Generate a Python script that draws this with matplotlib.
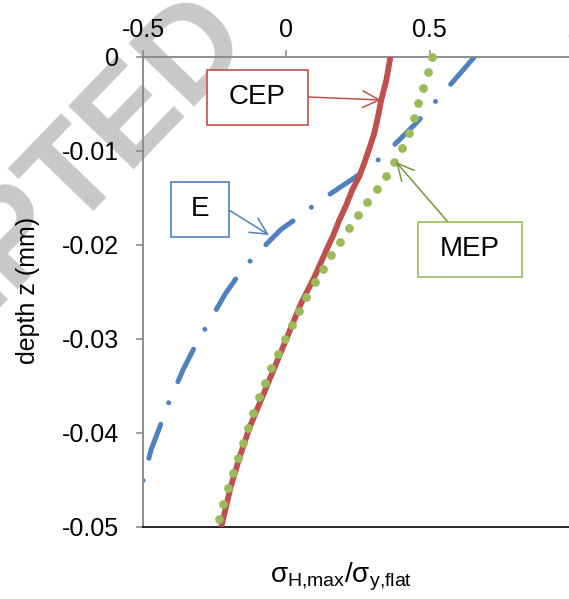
import matplotlib
matplotlib.use('Agg')
from matplotlib import pyplot as plt
from matplotlib.patches import Rectangle

plt.rcParams['font.family'] = ['Liberation Sans', 'DejaVu Sans']
plt.rcParams['mathtext.fontset'] = 'custom'
plt.rcParams['mathtext.rm'] = 'Liberation Sans'
plt.rcParams['axes.unicode_minus'] = False
plt.rcParams['lines.scale_dashes'] = False

# data
cep_depth = [0, -0.00245, -0.00457, -0.00617, -0.00809, -0.00968, -0.01128, -0.01266,
             -0.01415, -0.01574, -0.01734, -0.01894, -0.02053, -0.0234, -0.02617,
             -0.0300, -0.03309, -0.03617, -0.03947, -0.04266, -0.04585, -0.05]
cep_stress = [0.363, 0.349, 0.331, 0.321, 0.307, 0.290, 0.272, 0.255,
              0.230, 0.209, 0.185, 0.164, 0.140, 0.098, 0.052,
              0.0, -0.042, -0.084, -0.129, -0.164, -0.195, -0.227]

mep_depth = [0, -0.0016, -0.0033, -0.0049, -0.0065, -0.0081, -0.0097, -0.0112, -0.0127,
             -0.0140, -0.0154, -0.0168, -0.0182, -0.0197, -0.0211, -0.0226, -0.0239,
             -0.0255, -0.0270, -0.0285, -0.0300, -0.0316, -0.0331, -0.0347, -0.0362,
             -0.0379, -0.0395, -0.0411, -0.0427, -0.0443, -0.0459, -0.0476, -0.0491]
mep_stress = [0.509, 0.495, 0.478, 0.460, 0.446, 0.429, 0.405, 0.377, 0.349,
              0.317, 0.283, 0.251, 0.220, 0.188, 0.157, 0.129, 0.101,
              0.070, 0.045, 0.021, -0.003, -0.028, -0.052, -0.073, -0.094,
              -0.115, -0.133, -0.150, -0.167, -0.185, -0.202, -0.220, -0.234]

e_depth = [0, -0.0033, -0.0069, -0.0101, -0.0116, -0.0130, -0.0154, -0.0169, -0.0183,
           -0.0213, -0.0232, -0.0252, -0.0289, -0.0311, -0.0332, -0.0371, -0.0395,
           -0.0417, -0.0453, -0.05]
e_stress = [0.656, 0.562, 0.457, 0.352, 0.296, 0.230, 0.112, 0.049, -0.017,
            -0.115, -0.167, -0.213, -0.283, -0.324, -0.359, -0.415, -0.443,
            -0.471, -0.502, -0.544]

x_ticks = [-0.5, 0, 0.5, 1]
x_labels = ['-0.5', '0', '0.5', '1']
y_ticks = [0, -0.01, -0.02, -0.03, -0.04, -0.05]
y_labels = ['0', '-0.01', '-0.02', '-0.03', '-0.04', '-0.05']

red = '#C0504D'
blue = '#4F81BD'
green = '#9BBB59'
grey = '#868686'

W, H = 569, 599
fig = plt.figure(figsize=(W / 100, H / 100), dpi=100)


def fx(px):
    return px / W


def fy(py):
    return 1 - py / H


# watermark behind everything
fig.text(fx(254), fy(42), 'ACCEPTED', fontsize=94, fontweight='bold', color='#c8c8c8',
         rotation=46, rotation_mode='anchor', ha='right', va='baseline', zorder=-5)

ax = fig.add_axes([fx(143), fy(527), (573 - 143) / W, (527 - 57) / H])
ax.patch.set_facecolor('none')

ax.plot(e_stress, e_depth, color=blue, lw=3.6, dashes=(26, 16.5, 0.01, 16.5),
        dash_capstyle='round', zorder=2)
ax.plot(cep_stress, cep_depth, color=red, lw=4.2, solid_capstyle='butt',
        solid_joinstyle='round', zorder=3)
ax.plot(mep_stress, mep_depth, ls='none', marker='o', ms=6.3, color=green,
        markeredgewidth=0, zorder=4, clip_on=False)

ax.set_xlim(-0.5, 1)
ax.set_ylim(-0.05, 0)
ax.xaxis.tick_top()
ax.set_xticks(x_ticks)
ax.set_xticklabels(x_labels)
ax.set_yticks(y_ticks)
ax.set_yticklabels(y_labels)
ax.tick_params(axis='both', labelsize=18, color=grey, width=1.1, length=5)
ax.tick_params(axis='x', pad=6)
ax.tick_params(axis='y', pad=12)
for s in ['top', 'left']:
    ax.spines[s].set_color(grey)
    ax.spines[s].set_linewidth(1.3)
ax.spines['right'].set_visible(False)
ax.spines['bottom'].set_color('black')
ax.spines['bottom'].set_linewidth(1.2)

fig.text(fx(28), fy(290), 'depth z (mm)', fontsize=18, rotation=90, ha='center', va='center')
fig.text(fx(341), fy(577), r'$\mathrm{σ_{H{,}max}/σ_{y{,}flat}}$', fontsize=20,
         ha='center', va='center')

# labelled boxes with arrows
boxes = [
    ('CEP', (207, 70, 308, 125), red, (308, 97), (381, 100), red),
    ('E', (171, 182, 229, 237), blue, (229, 210), (269, 235), blue),
    ('MEP', (418, 222, 522, 277), green, (448, 222), (396, 162), '#77933C'),
]
for name, (x0, y0, x1, y1), ec, start, tip, ac in boxes:
    fig.add_artist(Rectangle((fx(x0), fy(y1)), fx(x1) - fx(x0), fy(y0) - fy(y1),
                             transform=fig.transFigure, facecolor='white',
                             edgecolor=ec, lw=1.2, zorder=6))
    fig.text(fx((x0 + x1) / 2), fy((y0 + y1) / 2), name, fontsize=20,
             ha='center', va='center', zorder=7)
    ax.annotate('', xy=(fx(tip[0]), fy(tip[1])), xycoords='figure fraction',
                xytext=(fx(start[0]), fy(start[1])), textcoords='figure fraction',
                arrowprops=dict(arrowstyle='->,head_length=1.2,head_width=0.6',
                                color=ac, lw=1.1, mutation_scale=10,
                                shrinkA=0, shrinkB=0), zorder=5)

fig.savefig('out.png', dpi=100)
